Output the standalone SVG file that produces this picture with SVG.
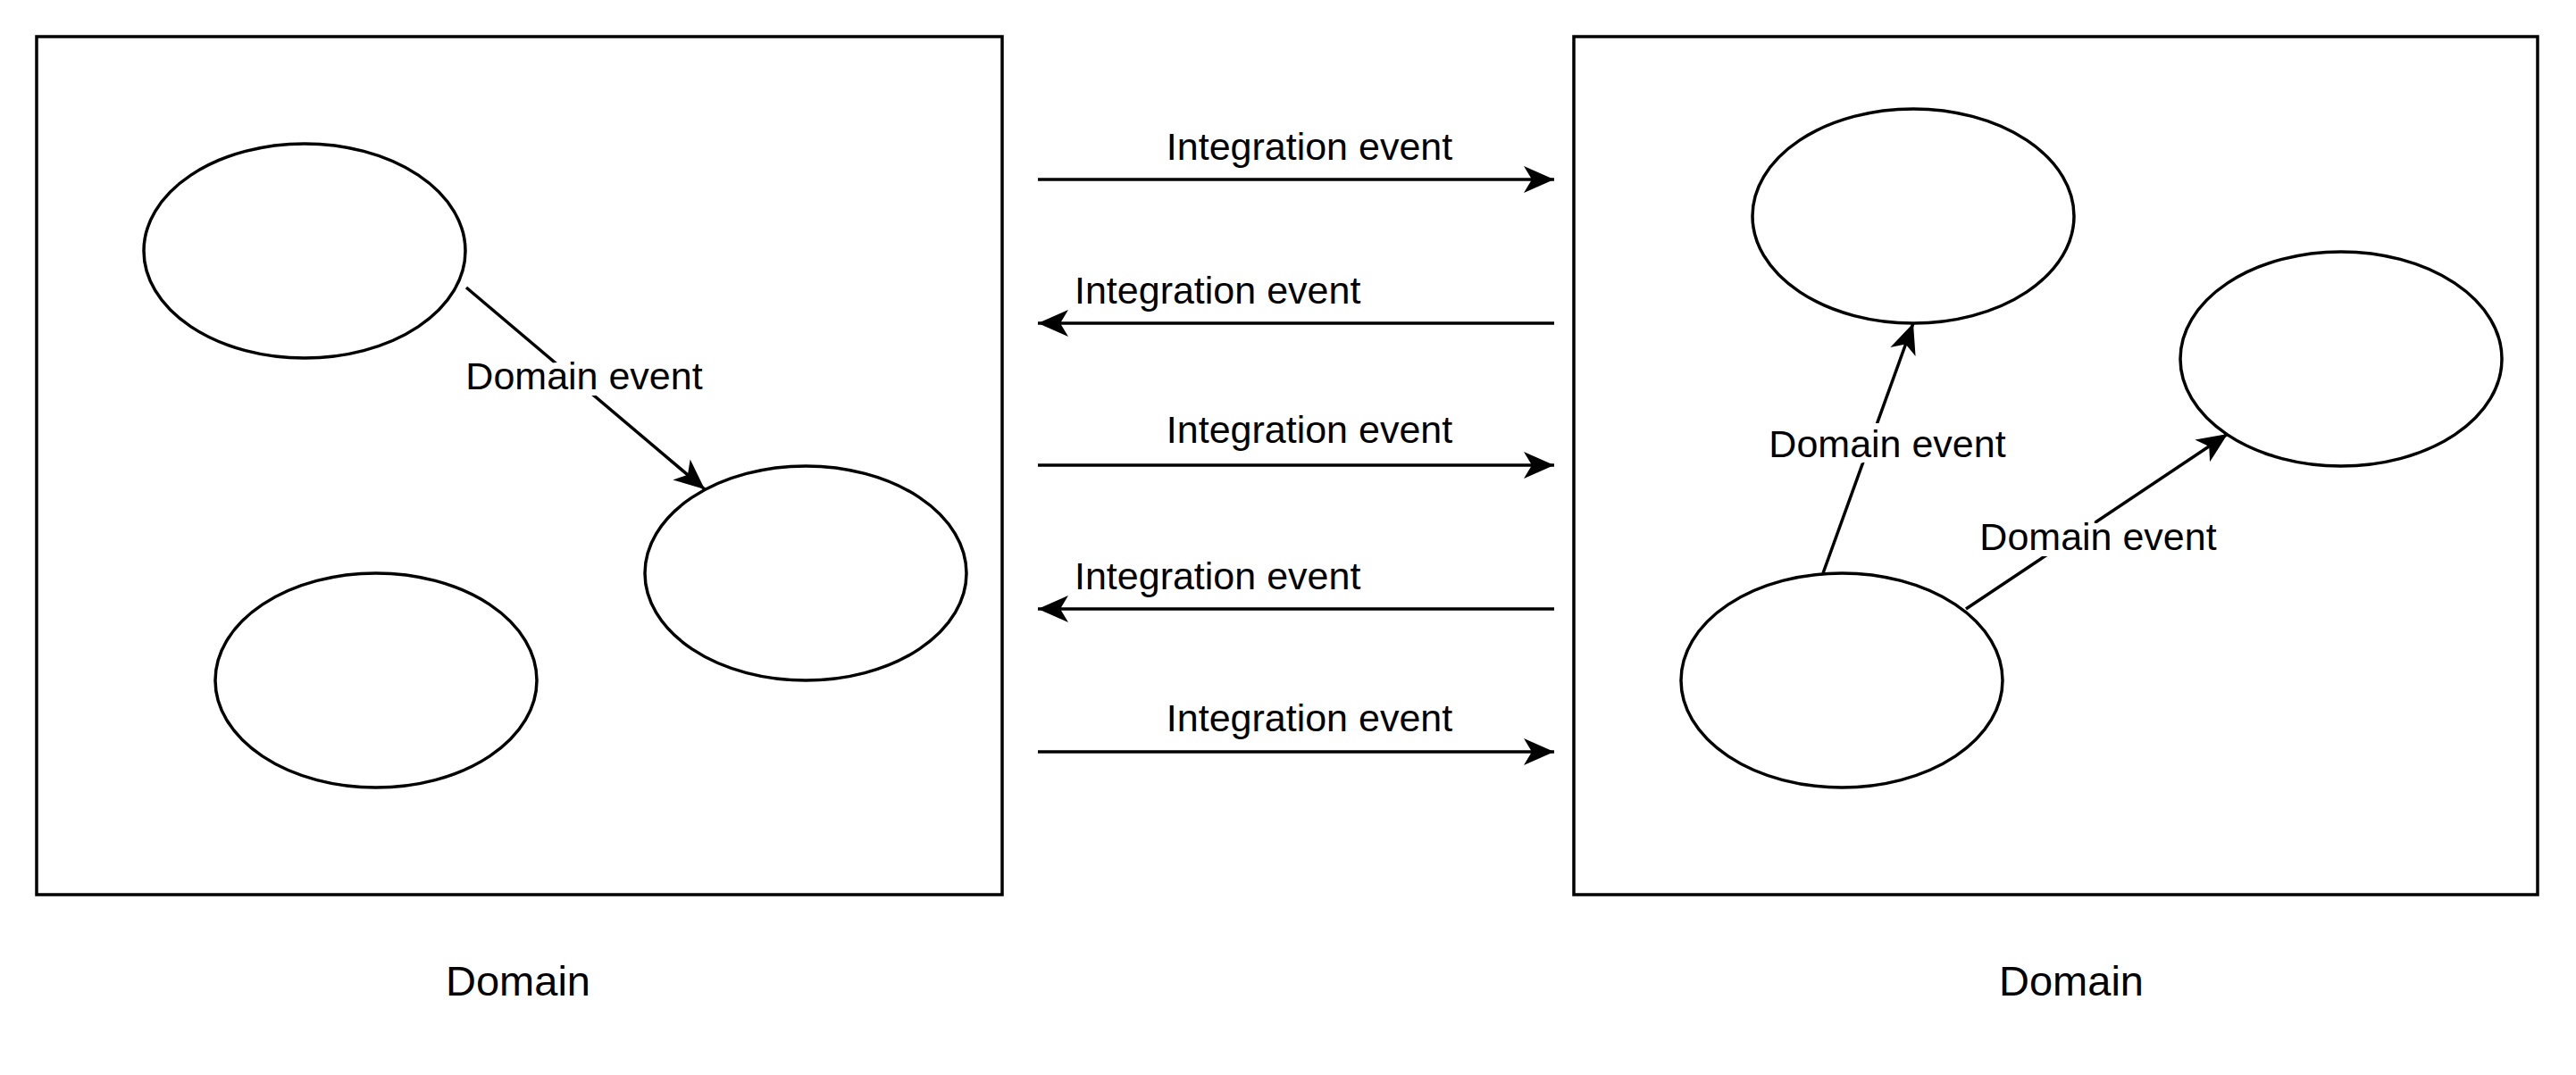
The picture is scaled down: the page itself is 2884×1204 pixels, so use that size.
<svg xmlns="http://www.w3.org/2000/svg" width="2884" height="1204" viewBox="0 0 2884 1204">
<style>
.b{fill:none;stroke:#000;stroke-width:3.5}
.e{fill:#fff;stroke:#000;stroke-width:3.5}
.c{fill:none;stroke:#000;stroke-width:3.5;marker-end:url(#a)}
text{font-family:"Liberation Sans",Arial,sans-serif;font-size:43px;fill:#000}
.d{font-size:47px;text-anchor:middle}
.l{stroke:#fff;stroke-width:14;paint-order:stroke;text-anchor:middle}
</style>
<defs>
<marker id="a" markerUnits="userSpaceOnUse" markerWidth="44" markerHeight="40" refX="36" refY="17" orient="auto" viewBox="0 0 44 34">
<path d="M36 17 L2 2 L11 17 L2 32 Z" fill="#000"/>
</marker>
</defs>
<g id="domainLeft"><rect class="b" x="41" y="41" width="1081" height="961"/><text class="d" x="580" y="1115">Domain</text></g>
<g id="domainRight"><rect class="b" x="1762" y="41" width="1079" height="961"/><text class="d" x="2319" y="1115">Domain</text></g>
<g id="n1"><ellipse class="e" cx="341" cy="281" rx="180" ry="120"/></g>
<g id="n2"><ellipse class="e" cx="902" cy="642" rx="180" ry="120"/></g>
<g id="n3"><ellipse class="e" cx="421" cy="762" rx="180" ry="120"/></g>
<g id="n4"><ellipse class="e" cx="2142" cy="242" rx="180" ry="120"/></g>
<g id="n5"><ellipse class="e" cx="2621" cy="402" rx="180" ry="120"/></g>
<g id="n6"><ellipse class="e" cx="2062" cy="762" rx="180" ry="120"/></g>
<g id="connectors">
<path class="c" d="M522 322 L789 548"/>
<text class="l" x="654" y="436">Domain event</text>
<path class="c" d="M2041 642 L2142 362"/>
<text class="l" x="2113" y="512">Domain event</text>
<path class="c" d="M2201 682 L2494 486"/>
<text class="l" x="2349" y="616">Domain event</text>
<path class="c" d="M1162 201 L1740 201"/>
<text x="1466" y="179" text-anchor="middle">Integration event</text>
<path class="c" d="M1740 362 L1162 362"/>
<text x="1203" y="340">Integration event</text>
<path class="c" d="M1162 521 L1740 521"/>
<text x="1466" y="496" text-anchor="middle">Integration event</text>
<path class="c" d="M1740 682 L1162 682"/>
<text x="1203" y="660">Integration event</text>
<path class="c" d="M1162 842 L1740 842"/>
<text x="1466" y="819" text-anchor="middle">Integration event</text>
</g>
</svg>
